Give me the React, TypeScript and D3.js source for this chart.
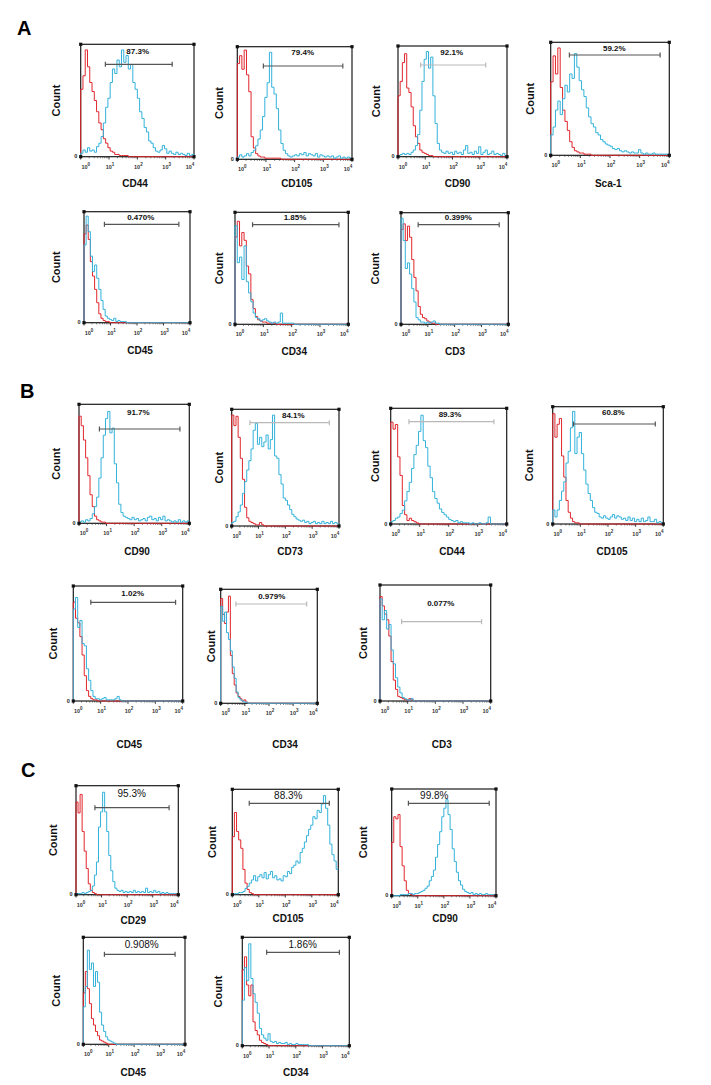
import React from 'react';
import * as d3 from 'd3';

// ---------- DATA (histogram counts in % of max, bins of ~0.08 decade from 10^0 to 10^4) ----------
const BIN_COUNT = 50;
const DECADES = [0, 1, 2, 3, 4];
const SECTIONS = ['A', 'B', 'C'];

const A_CD44_red = [60, 72, 95, 80, 66, 58, 50, 40, 30, 24, 16, 12, 8, 5, 4, 2, 2, 1, 1, 1, 1];
const A_CD44_blue = [3, 6, 4, 8, 5, 6, 4, 9, 12, 18, 30, 44, 52, 66, 78, 74, 86, 80, 95, 84, 90, 78, 82, 66, 60, 52, 40, 34, 26, 22, 14, 12, 8, 5, 4, 6, 10, 7, 3, 5, 3, 2, 4, 2, 3, 2, 1, 3, 1, 2];
const A_CD105_red = [85, 92, 80, 97, 75, 60, 20, 10, 5, 3, 2, 2, 1, 1, 1, 1, 1, 1, 1];
const A_CD105_blue = [2, 4, 2, 3, 5, 3, 6, 8, 12, 18, 26, 38, 55, 68, 95, 64, 58, 45, 26, 14, 8, 5, 3, 2, 3, 4, 3, 5, 4, 6, 3, 5, 4, 3, 5, 2, 4, 3, 2, 3, 2, 3, 1, 2, 3, 1, 2, 1, 2, 1];
const A_CD90_red = [55, 68, 85, 93, 62, 58, 45, 28, 18, 12, 6, 4, 3, 2, 1, 1];
const A_CD90_blue = [1, 2, 3, 2, 3, 2, 4, 6, 10, 20, 42, 68, 88, 95, 80, 90, 55, 30, 12, 6, 4, 3, 5, 3, 4, 2, 5, 3, 4, 2, 6, 10, 3, 4, 2, 5, 3, 9, 2, 4, 6, 2, 3, 5, 2, 3, 2, 1, 3, 1];
const A_Sca1_red = [65, 88, 72, 95, 60, 40, 30, 22, 12, 7, 4, 3, 2, 2, 1, 1, 1];
const A_Sca1_blue = [18, 25, 40, 48, 36, 50, 62, 56, 72, 68, 90, 78, 66, 58, 52, 42, 34, 28, 25, 20, 18, 14, 12, 10, 9, 8, 6, 5, 6, 4, 3, 4, 3, 2, 3, 2, 2, 5, 2, 1, 2, 1, 1, 2, 1, 1, 1, 1, 1, 1];
const A_CD45_red = [80, 88, 75, 55, 42, 30, 18, 8, 4, 2, 1, 1];
const A_CD45_blue = [70, 96, 82, 60, 46, 52, 40, 30, 20, 12, 6, 4, 3, 2, 4, 1, 2, 1, 1, 1];
const A_CD34_red = [78, 92, 70, 82, 75, 52, 45, 22, 14, 7, 4, 3, 2, 2, 1, 1, 1, 1];
const A_CD34_blue = [88, 55, 60, 40, 70, 38, 28, 20, 10, 6, 5, 3, 4, 5, 3, 2, 1, 2, 1, 2, 10, 1, 1, 1, 1, 1];
const A_CD3_red = [85, 90, 75, 88, 78, 58, 42, 30, 16, 9, 6, 5, 3, 2, 1, 1];
const A_CD3_blue = [95, 75, 50, 55, 45, 32, 20, 6, 4, 2, 2, 1, 2, 1, 2, 3, 1, 1];

const B_CD90_red = [90, 82, 70, 55, 40, 24, 14, 6, 3, 2, 1, 1];
const B_CD90_blue = [1, 2, 1, 3, 2, 4, 8, 14, 22, 38, 55, 74, 88, 94, 76, 80, 50, 34, 16, 9, 6, 5, 4, 3, 5, 3, 4, 2, 3, 4, 2, 5, 6, 3, 4, 2, 5, 3, 6, 2, 3, 2, 1, 2, 1, 3, 1, 2, 1, 2];
const B_CD73_red = [95, 86, 94, 76, 58, 40, 16, 7, 4, 3, 2, 1, 1, 3, 1];
const B_CD73_blue = [3, 4, 8, 12, 18, 28, 38, 48, 56, 66, 82, 88, 70, 76, 68, 72, 78, 66, 74, 95, 60, 58, 44, 36, 24, 22, 18, 14, 10, 8, 6, 5, 4, 5, 3, 4, 2, 3, 4, 2, 3, 2, 4, 2, 3, 2, 4, 2, 3, 2];
const B_CD44_red = [88, 82, 86, 58, 42, 16, 8, 3, 5, 3, 2, 1];
const B_CD44_blue = [2, 3, 5, 6, 9, 12, 20, 28, 36, 48, 60, 68, 80, 94, 72, 66, 50, 40, 28, 22, 18, 13, 10, 8, 6, 4, 3, 2, 3, 1, 2, 1, 1, 1, 0, 1, 0, 0, 1, 0, 0, 1, 6, 0, 0, 0, 0, 0, 0, 0];
const B_CD105_red = [94, 74, 85, 90, 58, 40, 20, 10, 5, 2, 1, 1];
const B_CD105_blue = [12, 6, 12, 20, 28, 36, 52, 62, 82, 96, 60, 74, 78, 60, 46, 34, 26, 20, 14, 10, 9, 6, 5, 7, 5, 4, 6, 8, 5, 7, 6, 4, 5, 3, 6, 3, 5, 2, 4, 2, 5, 2, 3, 6, 2, 2, 4, 1, 2, 1];
const B_CD45_red = [86, 72, 68, 56, 40, 22, 9, 4, 2, 1, 1];
const B_CD45_blue = [80, 90, 64, 70, 50, 48, 28, 18, 9, 4, 2, 2, 1, 2, 3, 1, 1, 1, 1, 2, 4, 1];
const B_CD34_red = [92, 78, 70, 80, 94, 42, 26, 16, 9, 6, 4, 2, 3, 1];
const B_CD34_blue = [85, 72, 80, 62, 56, 46, 32, 22, 10, 5, 3, 2, 1, 1];
const B_CD3_red = [90, 82, 75, 70, 56, 34, 18, 10, 4, 3, 2, 1, 1, 2, 1];
const B_CD3_blue = [88, 70, 78, 62, 66, 44, 32, 20, 12, 7, 3, 2, 1, 1, 2];

const C_CD29_red = [85, 75, 92, 58, 40, 24, 10, 4, 2, 1];
const C_CD29_blue = [1, 1, 1, 2, 1, 2, 3, 4, 8, 18, 30, 62, 76, 94, 76, 58, 36, 22, 12, 6, 4, 3, 4, 2, 3, 2, 3, 2, 4, 2, 3, 2, 3, 2, 6, 2, 3, 2, 4, 2, 3, 1, 2, 1, 2, 1, 1, 1, 1, 1];
const C_CD105_red = [55, 78, 60, 52, 44, 24, 11, 5, 2, 1];
const C_CD105_blue = [1, 1, 1, 2, 2, 3, 6, 8, 11, 14, 18, 13, 17, 19, 16, 21, 15, 19, 22, 16, 18, 14, 15, 13, 18, 17, 22, 20, 26, 28, 32, 30, 40, 44, 50, 56, 62, 66, 74, 72, 80, 78, 86, 94, 82, 66, 48, 38, 32, 24];
const C_CD90_red = [50, 74, 72, 76, 46, 28, 14, 5, 2, 1];
const C_CD90_blue = [0, 0, 0, 0, 1, 1, 1, 1, 2, 2, 1, 2, 2, 3, 4, 5, 7, 9, 14, 18, 24, 36, 48, 60, 74, 82, 90, 76, 62, 44, 32, 22, 14, 10, 6, 4, 3, 2, 3, 1, 2, 1, 2, 1, 1, 2, 1, 1, 1, 1];
const C_CD45_red = [48, 68, 52, 38, 24, 18, 12, 8, 4, 3, 2, 1];
const C_CD45_blue = [35, 54, 88, 70, 76, 54, 68, 58, 30, 18, 12, 7, 4, 3, 2, 1];
const C_CD34_red = [70, 82, 56, 46, 56, 22, 14, 10, 5, 3, 2, 1];
const C_CD34_blue = [42, 72, 60, 94, 62, 48, 40, 30, 16, 10, 7, 5, 11, 4, 3, 4, 2, 3, 2, 2, 3, 1, 2, 1, 1, 2, 1, 1, 1, 1, 1];

const MARKERS = ['CD44', 'CD105', 'CD90', 'Sca-1', 'CD45', 'CD34', 'CD3', 'CD90', 'CD73', 'CD44', 'CD105', 'CD45', 'CD34', 'CD3', 'CD29', 'CD105', 'CD90', 'CD45', 'CD34'];
const PERCENTS = ['87.3%', '79.4%', '92.1%', '59.2%', '0.470%', '1.85%', '0.399%', '91.7%', '84.1%', '89.3%', '60.8%', '1.02%', '0.979%', '0.077%', '95.3%', '88.3%', '99.8%', '0.908%', '1.86%'];
const GATE_START = [0.87, 0.91, 0.83, 0.63, 0.77, 0.62, 0.64, 0.74, 0.68, 0.63, 0.75, 0.64, 0.63, 0.78, 0.74, 0.64, 0.64, 0.83, 0.91];
const GATE_END = [3.23, 3.68, 3.22, 3.69, 3.58, 3.67, 3.66, 3.66, 3.64, 3.56, 3.71, 3.74, 3.56, 3.67, 3.64, 3.66, 3.74, 3.61, 3.63];
const REDS = [A_CD44_red, A_CD105_red, A_CD90_red, A_Sca1_red, A_CD45_red, A_CD34_red, A_CD3_red, B_CD90_red, B_CD73_red, B_CD44_red, B_CD105_red, B_CD45_red, B_CD34_red, B_CD3_red, C_CD29_red, C_CD105_red, C_CD90_red, C_CD45_red, C_CD34_red];
const BLUES = [A_CD44_blue, A_CD105_blue, A_CD90_blue, A_Sca1_blue, A_CD45_blue, A_CD34_blue, A_CD3_blue, B_CD90_blue, B_CD73_blue, B_CD44_blue, B_CD105_blue, B_CD45_blue, B_CD34_blue, B_CD3_blue, C_CD29_blue, C_CD105_blue, C_CD90_blue, C_CD45_blue, C_CD34_blue];

// ---------- LAYOUT (frame box, label positions, gate style) ----------
type Lay = { l: number; r: number; t: number; b: number; cx: number; lx: number; ly: number; gy: number; tx: number; ty: number; light?: boolean; big?: boolean };
const LAYOUT: Lay[] = [
  { l: 80.7, r: 194, t: 44.3, b: 156.7, cx: 56, lx: 135, ly: 187, gy: 64.3, tx: 137.7, ty: 51 },
  { l: 237.3, r: 352, t: 46.7, b: 159.3, cx: 218.8, lx: 296.7, ly: 187, gy: 66, tx: 302.7, ty: 52.3 },
  { l: 398, r: 507, t: 46, b: 156.7, cx: 375.5, lx: 457.5, ly: 187, gy: 65, tx: 451.7, ty: 52, light: true },
  { l: 550.7, r: 669.3, t: 42.3, b: 155.3, cx: 529.5, lx: 608.3, ly: 187, gy: 55, tx: 614.3, ty: 47.7 },
  { l: 84, r: 190, t: 211.7, b: 322.7, cx: 56.3, lx: 140, ly: 354, gy: 224.3, tx: 140.7, ty: 216.7 },
  { l: 235, r: 348.3, t: 212.3, b: 324.3, cx: 218.8, lx: 294.2, ly: 355, gy: 224.7, tx: 295, ty: 217.3 },
  { l: 401, r: 508.3, t: 212.7, b: 324.3, cx: 374.8, lx: 455, ly: 355, gy: 224.7, tx: 458.3, ty: 217.3 },
  { l: 79, r: 189.3, t: 404.3, b: 523.3, cx: 56.3, lx: 137, ly: 555, gy: 429, tx: 138.3, ty: 412.3 },
  { l: 231.7, r: 339, t: 409.3, b: 526, cx: 218.8, lx: 290, ly: 555, gy: 422.7, tx: 293.3, ty: 415, light: true },
  { l: 390.7, r: 506.7, t: 408.3, b: 524, cx: 375, lx: 452, ly: 555, gy: 421.7, tx: 450, ty: 414.3, light: true },
  { l: 552.7, r: 663.3, t: 406.7, b: 524, cx: 529, lx: 612, ly: 555, gy: 424, tx: 613.3, ty: 412 },
  { l: 73.3, r: 182.7, t: 586, b: 701, cx: 53.3, lx: 129.2, ly: 748.3, gy: 602.3, tx: 132.7, ty: 593.3 },
  { l: 220.7, r: 317.3, t: 589.3, b: 703.3, cx: 210.8, lx: 285, ly: 748.3, gy: 604, tx: 271.7, ty: 596, light: true },
  { l: 380, r: 490.7, t: 585, b: 701, cx: 362.5, lx: 441.7, ly: 748.3, gy: 621.7, tx: 440.7, ty: 603.3, light: true },
  { l: 76, r: 178.3, t: 785.7, b: 894.7, cx: 53.3, lx: 133.3, ly: 924, gy: 807.7, tx: 131.7, ty: 793.3, big: true },
  { l: 232.3, r: 338.3, t: 789.3, b: 894.7, cx: 211.5, lx: 288, ly: 922, gy: 803.3, tx: 288.3, ty: 795.7, big: true },
  { l: 391.7, r: 496, t: 789, b: 895.7, cx: 363.3, lx: 445, ly: 922, gy: 803.3, tx: 434.3, ty: 795, big: true },
  { l: 83.3, r: 185, t: 937.3, b: 1044.3, cx: 55.8, lx: 133.3, ly: 1076, gy: 954.3, tx: 141.7, ty: 944, big: true },
  { l: 242.3, r: 349.3, t: 937.3, b: 1045.7, cx: 218.3, lx: 295.8, ly: 1076, gy: 952.3, tx: 302.7, ty: 944, big: true },
];
const SECTION_POS = [{ x: 17, y: 35 }, { x: 20, y: 398 }, { x: 21, y: 777 }];

const FONT = 'Liberation Sans, Arial, Helvetica, sans-serif';
const RED = '#e1262c';
const BLUE = '#33b2db';

function pad(a: number[]): number[] {
  return Array.from({ length: BIN_COUNT }, (_, i) => (i < a.length ? a[i] : 0));
}

function Panel({ i }: { i: number }) {
  const L = LAYOUT[i];
  const x = d3.scaleLinear().domain([0, 4]).range([L.l, L.r]);
  const y = d3.scaleLinear().domain([0, 100]).range([L.b, L.t]);
  const bin = d3.scaleLinear().domain([0, BIN_COUNT]).range([0, 4]);
  const line = d3
    .line<[number, number]>()
    .x((p) => x(bin(p[0])))
    .y((p) => y(p[1]))
    .curve(d3.curveStepAfter);
  const pts = (a: number[]): [number, number][] => {
    const v = pad(a);
    return [[0, 0], ...v.map((c, k) => [k, c] as [number, number]), [BIN_COUNT, v[BIN_COUNT - 1]]];
  };
  const minor: number[] = [];
  for (let d = 0; d < 4; d++) for (let k = 2; k <= 9; k++) minor.push(d + Math.log10(k));
  const gateColor = L.light ? '#b9b9b9' : '#555';
  const g0 = x(GATE_START[i]);
  const g1 = x(GATE_END[i]);
  const midY = (L.t + L.b) / 2;
  return (
    <g>
      <rect x={L.l} y={L.t} width={L.r - L.l} height={L.b - L.t} fill="none" stroke="#1b1b1b" strokeWidth={1.2} />
      {minor.map((m, k) => (
        <line key={'m' + k} x1={x(m)} x2={x(m)} y1={L.b} y2={L.b + 1.6} stroke="#333" strokeWidth={0.6} />
      ))}
      {DECADES.map((d) => (
        <line key={'M' + d} x1={x(d)} x2={x(d)} y1={L.b} y2={L.b + 2.8} stroke="#222" strokeWidth={0.9} />
      ))}
      {DECADES.map((d) => (
        <text key={'t' + d} x={x(d) + (d === 0 ? 5 : d === 4 ? -4 : 1)} y={L.b + 12} fontFamily={FONT} fontSize={5.5} fontWeight="bold" fill="#333" textAnchor="middle">
          10<tspan fontSize={4.5} dy={-3}>{d}</tspan>
        </text>
      ))}
      <text x={L.l - 5} y={L.b + 1.5} fontFamily={FONT} fontSize={5.5} fontWeight="bold" fill="#222" textAnchor="middle">0</text>
      <path d={line(pts(REDS[i])) || ''} fill="none" stroke={RED} strokeWidth={1} />
      <path d={line(pts(BLUES[i])) || ''} fill="none" stroke={BLUE} strokeWidth={1} />
      {[[L.l, L.t], [L.r, L.t], [L.l, L.b], [L.r, L.b]].map(([cx, cy], k) => (
        <rect key={'c' + k} x={cx - 1.6} y={cy - 1.6} width={3.2} height={3.2} fill="#111" />
      ))}
      <line x1={g0} x2={g1} y1={L.gy} y2={L.gy} stroke={gateColor} strokeWidth={1.2} />
      <line x1={g0} x2={g0} y1={L.gy - 2.5} y2={L.gy + 2.5} stroke={gateColor} strokeWidth={1.2} />
      <line x1={g1} x2={g1} y1={L.gy - 2.5} y2={L.gy + 2.5} stroke={gateColor} strokeWidth={1.2} />
      <text x={L.tx} y={L.ty + (L.big ? 3.5 : 3)} fontFamily={FONT} fontSize={L.big ? 10 : 8} fontWeight={L.big ? 'normal' : 'bold'} fill="#111" textAnchor="middle">
        {PERCENTS[i]}
      </text>
      <text transform={`translate(${L.cx},${midY}) rotate(-90)`} fontFamily={FONT} fontSize={11} fontWeight="bold" fill="#111" textAnchor="middle" dominantBaseline="central">
        Count
      </text>
      <text x={L.lx} y={L.ly} fontFamily={FONT} fontSize={10} fontWeight="bold" fill="#111" textAnchor="middle">
        {MARKERS[i]}
      </text>
    </g>
  );
}

export default function App() {
  return (
    <svg width={711} height={1085} style={{ position: 'absolute', left: 0, top: 0, background: '#fff' }}>
      <rect x={0} y={0} width={711} height={1085} fill="#fff" />
      {SECTIONS.map((s, k) => (
        <text key={s} x={SECTION_POS[k].x} y={SECTION_POS[k].y} fontFamily={FONT} fontSize={20} fontWeight="bold" fill="#000">
          {s}
        </text>
      ))}
      {LAYOUT.map((_, i) => (
        <Panel key={i} i={i} />
      ))}
    </svg>
  );
}
